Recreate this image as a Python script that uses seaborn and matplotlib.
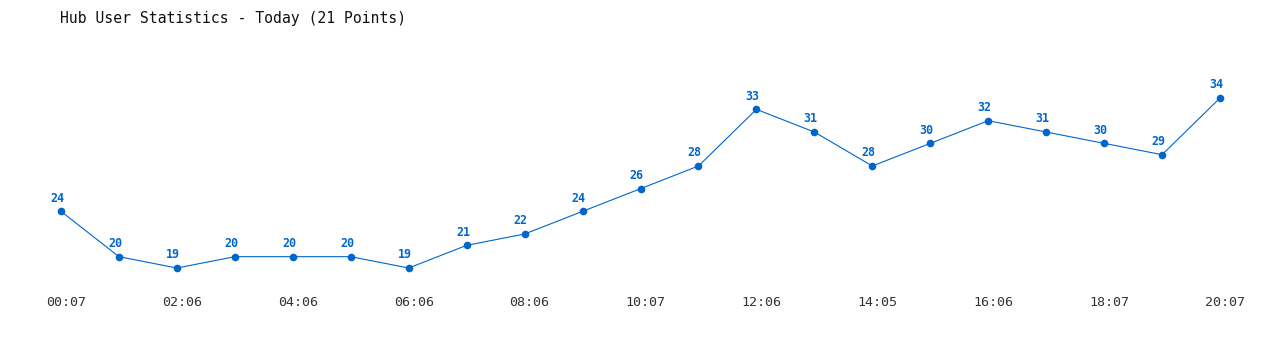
import matplotlib
matplotlib.use("Agg")
import matplotlib.pyplot as plt
import matplotlib.transforms as mtransforms
import seaborn as sns
import pandas as pd

times = ["00:07", "01:07", "02:06", "03:06", "04:06", "05:06", "06:06", "07:06",
         "08:06", "09:07", "10:07", "11:06", "12:06", "13:06", "14:05", "15:06",
         "16:06", "17:06", "18:07", "19:07", "20:07"]
users = [24, 20, 19, 20, 20, 20, 19, 21, 22, 24, 26, 28, 33, 31, 28, 30, 32, 31, 30, 29, 34]
title = "Hub User Statistics - Today (21 Points)"

sns.set_theme(style="white")
plt.rcParams['font.family'] = ['DejaVu Sans Mono', 'DejaVu Sans']

df = pd.DataFrame({"idx": range(len(users)), "time": times, "users": users})

fig = plt.figure(figsize=(12.8, 3.5), dpi=100)
ax = fig.add_axes([0, 0, 1, 1])
color = "#0066cc"
sns.lineplot(data=df, x="idx", y="users", ax=ax, color=color, linewidth=0.8,
             marker="o", markersize=5.5, markeredgewidth=0, markerfacecolor=color)

ax.set_xlim(-1.0526, 21.035)
ax.set_ylim(11.765, 42.65)
ax.axis("off")

for i, v in zip(df["idx"], df["users"]):
    ax.annotate(str(v), (i, v), xytext=(-2.7, 9.5), textcoords="offset points",
                ha="center", va="center", color=color, fontsize=8.4, fontweight="bold")

trans = mtransforms.blended_transform_factory(ax.transData, ax.transAxes)
trans = trans + mtransforms.ScaledTranslation(5 / 100, 0, fig.dpi_scale_trans)
for i, t in enumerate(times):
    if i % 2 == 0:
        ax.text(i, 1 - 303 / 350, t, transform=trans, ha="center", va="center",
                color="#333333", fontsize=9.6)

fig.text(60 / 1280, 1 - 18 / 350, title, ha="left", va="center",
         fontsize=10.6, color="#111111")

fig.savefig("out.png", dpi=100, facecolor="white")
